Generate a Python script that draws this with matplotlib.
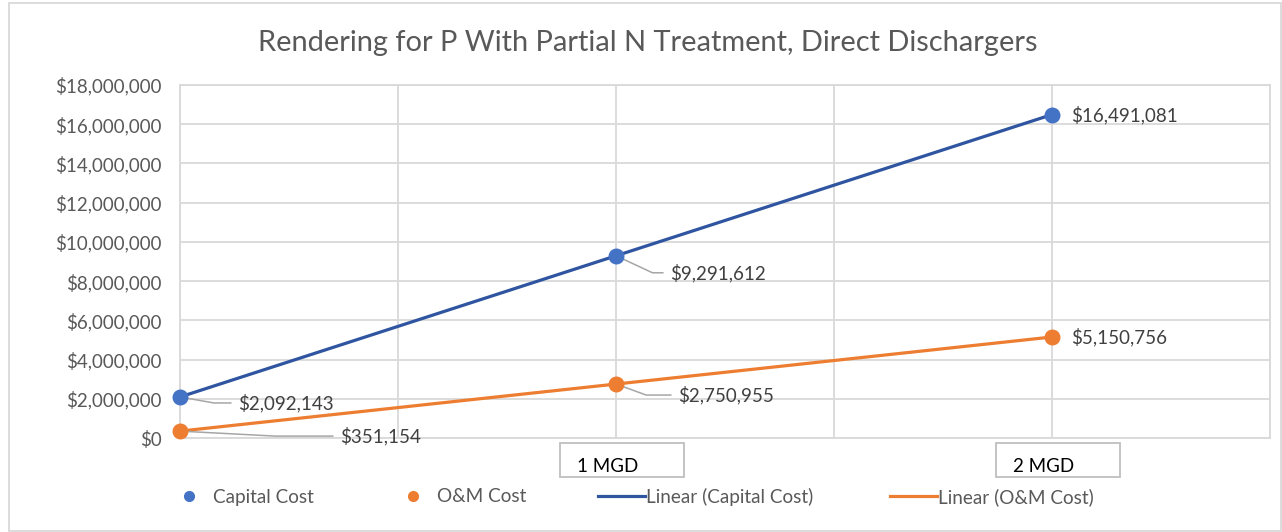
import numpy as np
import matplotlib.pyplot as plt
from matplotlib.patches import Rectangle

# data
x_vals = [0, 1, 2]
capital_cost = [2092143, 9291612, 16491081]
om_cost = [351154, 2750955, 5150756]
tick_pos = [1, 2]
tick_labels = ['1 MGD', '2 MGD']

blue = '#4472C4'
blue_dark = '#2F55A0'
orange = '#ED7D31'
grid_c = '#D9D9D9'
txt_c = '#595959'
lab_c = '#404040'

plt.rcParams['font.family'] = ['Lato', 'DejaVu Sans']

fig = plt.figure(figsize=(12.82, 5.32), dpi=100)
ax = fig.add_axes([180/1282, 1-438/532, 1090/1282, 353/532])

# linear trendlines (fitted to the data like Excel)
xs = np.array(x_vals, dtype=float)
xfit = np.array([0, 2])
pc = np.polyfit(xs, capital_cost, 1)
po = np.polyfit(xs, om_cost, 1)
ax.plot(xfit, np.polyval(pc, xfit), color=blue_dark, lw=2.3, zorder=3)
ax.plot(xfit, np.polyval(po, xfit), color=orange, lw=2.3, zorder=3)

ax.scatter(x_vals, capital_cost, s=110, color=blue, zorder=4, clip_on=False)
ax.scatter(x_vals, om_cost, s=110, color=orange, zorder=4, clip_on=False)

ax.set_xlim(0, 2.5)
ax.set_ylim(0, 18000000)
ax.set_yticks(np.arange(0, 18000001, 2000000))
ax.set_yticklabels(['${:,.0f}'.format(v) for v in ax.get_yticks()])
ax.set_xticks(np.arange(0, 2.51, 0.5))
ax.set_xticklabels([])
ax.tick_params(length=0, labelsize=13.5, labelcolor=txt_c, pad=13)
ax.grid(True, color=grid_c, lw=1.3)
ax.set_axisbelow(True)
for s in ax.spines.values():
    s.set_color(grid_c)
    s.set_linewidth(1.3)

# category labels in boxes
xtr = ax.get_xaxis_transform()
for p, lab in zip(tick_pos, tick_labels):
    ax.add_patch(Rectangle((p - 0.128, -39/353), 0.284, 34/353, transform=xtr,
                           fill=False, edgecolor='#BFBFBF', lw=1.3, clip_on=False))
    ax.text(p - 0.09, -29/353, lab, transform=xtr, ha='left', va='center',
            fontsize=13.5, color='black')

# data labels with leader lines
def label(x, y, dx, dy, ang=None):
    t = '${:,.0f}'.format(y)
    if ang is None:
        ax.annotate(t, xy=(x, y), xytext=(dx, dy), textcoords='offset pixels',
                    ha='left', va='center', fontsize=13.5, color=lab_c)
    else:
        ax.annotate(t, xy=(x, y), xytext=(dx, dy), textcoords='offset pixels',
                    ha='left', va='center', fontsize=13.5, color=lab_c,
                    arrowprops=dict(arrowstyle='-', color='#A6A6A6', lw=1.1,
                                    shrinkA=3, shrinkB=0, relpos=(0, 0.5),
                                    connectionstyle='angle,angleA=0,angleB=%d,rad=0' % ang))

label(x_vals[0], capital_cost[0], 58, -6, -10)
label(x_vals[0], om_cost[0], 160, -5, -3)
label(x_vals[1], capital_cost[1], 54, -17, -25)
label(x_vals[1], om_cost[1], 62, -11, -20)
label(x_vals[2], capital_cost[2], 19, 0)
label(x_vals[2], om_cost[2], 19, 0)

fig.text(648/1282, 1-43/532, 'Rendering for P With Partial N Treatment, Direct Dischargers',
         ha='center', va='center', fontsize=20.9, color=txt_c)

# legend, one entry per box to match the Excel spacing
entries = [
    (plt.Line2D([], [], ls='none', marker='o', ms=7, color=blue), 'Capital Cost', 165),
    (plt.Line2D([], [], ls='none', marker='o', ms=7, color=orange), 'O&M Cost', 389),
    (plt.Line2D([], [], lw=2.3, color=blue_dark), 'Linear (Capital Cost)', 598),
    (plt.Line2D([], [], lw=2.3, color=orange), 'Linear (O&M Cost)', 890),
]
for h, lab, xp in entries:
    fig.legend([h], [lab], loc='center left', bbox_to_anchor=(xp/1282, 1-497/532),
               frameon=False, fontsize=13.6, labelcolor=txt_c, handlelength=2.5,
               handletextpad=0.05, borderpad=0, borderaxespad=0)

fig.add_artist(Rectangle((9/1282, 1/532), 1272/1282, 528/532, transform=fig.transFigure,
                         fill=False, edgecolor=grid_c, lw=1.3))

fig.savefig('out.png', dpi=100)
